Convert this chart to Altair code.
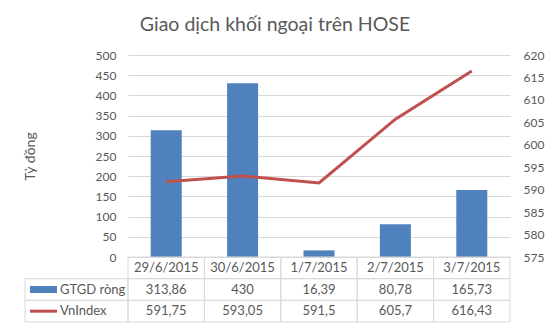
import altair as alt
import pandas as pd

# ---- data ----
dates = ["29/6/2015", "30/6/2015", "1/7/2015", "2/7/2015", "3/7/2015"]
gtgd = [313.86, 430, 16.39, 80.78, 165.73]
vnindex = [591.75, 593.05, 591.5, 605.7, 616.43]
series_names = ["GTGD ròng", "VnIndex"]
left_ticks = [0, 50, 100, 150, 200, 250, 300, 350, 400, 450, 500]
right_ticks = [575, 580, 585, 590, 595, 600, 605, 610, 615, 620]
title_text = "Giao dịch khối ngoại trên HOSE"
left_title = "Tỷ đồng"

# ---- styles ----
BLUE = "#4F81BD"
RED = "#C0504D"
TXT = "#595959"
GRID = "#D9D9D9"
FONT = "Lato"
W, H = 382, 267
PH = 202  # plot (bars) height; table below


def fmt(v):
    return str(v).replace(".", ",")


df = pd.DataFrame({"date": dates, "gtgd": gtgd, "vn": vnindex})

rows_order = ["header"] + series_names
table_rows = []
for d, g, v in zip(dates, gtgd, vnindex):
    table_rows.append({"date": d, "row": "header", "label": d})
    table_rows.append({"date": d, "row": series_names[0], "label": fmt(g)})
    table_rows.append({"date": d, "row": series_names[1], "label": fmt(v)})
tdf = pd.DataFrame(table_rows)
legdf = pd.DataFrame({"row": series_names, "color": [BLUE, RED]})

xscale = alt.Scale(type="band", domain=dates, paddingInner=0, paddingOuter=0)
rowscale = alt.Scale(type="band", domain=rows_order, range=[PH, H],
                     paddingInner=0, paddingOuter=0)

bars = alt.Chart(df).mark_bar(color=BLUE, size=31).encode(
    x=alt.X("date:N", scale=xscale, axis=None, sort=dates),
    y=alt.Y("gtgd:Q",
            scale=alt.Scale(domain=[0, 500], range=[PH, 0], nice=False, zero=True),
            axis=alt.Axis(values=left_ticks, grid=True, gridColor=GRID, domain=False,
                          ticks=False, labelPadding=12, title=left_title,
                          titleX=-98, titleY=PH / 2, titleAngle=-90,
                          titleAlign="center", titleBaseline="middle",
                          titleFontSize=14, titleFontWeight="normal",
                          titleColor=TXT, titleFont=FONT)),
)

line = alt.Chart(df).mark_line(color=RED, strokeWidth=3).encode(
    x=alt.X("date:N", scale=xscale, axis=None, sort=dates, bandPosition=0.5),
    y=alt.Y("vn:Q",
            scale=alt.Scale(domain=[575, 620], range=[PH, 0], nice=False, zero=False),
            axis=alt.Axis(orient="right", values=right_ticks, grid=False, domain=False,
                          ticks=False, labelPadding=13, title=None)),
)

cells = alt.Chart(tdf).mark_rect(fill=None, stroke=GRID, strokeWidth=1).encode(
    x=alt.X("date:N", scale=xscale, axis=None, sort=dates),
    y=alt.Y("row:N", scale=rowscale, axis=None),
)
cell_text = alt.Chart(tdf).mark_text(font=FONT, fontSize=13, color=TXT).encode(
    x=alt.X("date:N", scale=xscale, axis=None, sort=dates, bandPosition=0.5),
    y=alt.Y("row:N", scale=rowscale, axis=None, bandPosition=0.5),
    text="label:N",
)
leg_cells = alt.Chart(legdf).mark_rect(fill=None, stroke=GRID, strokeWidth=1).encode(
    x=alt.value(-103), x2=alt.value(0),
    y=alt.Y("row:N", scale=rowscale, axis=None),
)
leg_bar = alt.Chart(legdf).transform_filter(
    alt.datum.row == series_names[0]
).mark_rule(color=BLUE, strokeWidth=7).encode(
    x=alt.value(-98), x2=alt.value(-71),
    y=alt.Y("row:N", scale=rowscale, axis=None, bandPosition=0.5),
)
leg_line = alt.Chart(legdf).transform_filter(
    alt.datum.row == series_names[1]
).mark_rule(color=RED, strokeWidth=3).encode(
    x=alt.value(-98), x2=alt.value(-71),
    y=alt.Y("row:N", scale=rowscale, axis=None, bandPosition=0.5),
)
leg_text = alt.Chart(legdf).mark_text(font=FONT, fontSize=13, color=TXT,
                                      align="left").encode(
    x=alt.value(-68),
    y=alt.Y("row:N", scale=rowscale, axis=None, bandPosition=0.5),
    text="row:N",
)

table = alt.layer(cells, leg_cells, cell_text, leg_bar, leg_line, leg_text)

chart = alt.layer(bars, line, table).resolve_scale(y="independent").properties(
    width=W, height=H,
    title=alt.TitleParams(title_text, font=FONT, fontSize=19.5, fontWeight="normal",
                          color=TXT, anchor="middle", frame="group", dx=-44,
                          offset=14),
    autosize=alt.AutoSizeParams(type="none"),
    padding={"left": 128, "top": 55, "right": 42, "bottom": 6},
).configure_view(stroke=None).configure_axis(
    labelFont=FONT, labelFontSize=12, labelColor=TXT
)

chart.save("out.html", embed_options={"renderer": "svg", "actions": False})
